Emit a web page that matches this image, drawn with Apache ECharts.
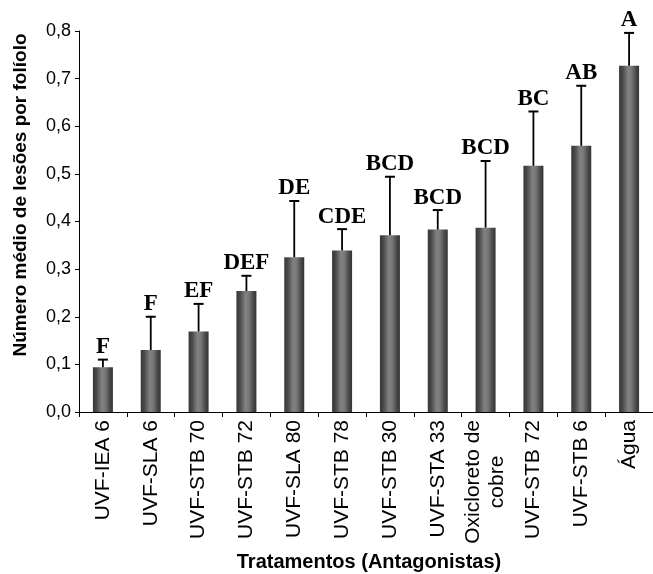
<!DOCTYPE html>
<html>
<head>
<meta charset="utf-8">
<script src="https://cdn.jsdelivr.net/npm/echarts@6/dist/echarts.min.js"></script>
<style>html,body{margin:0;padding:0;background:#fff;}#c{width:653px;height:574px;}</style>
</head>
<body>
<div id="c"></div>
<script>
var categories = ['UVF-IEA 6','UVF-SLA 6','UVF-STB 70','UVF-STB 72','UVF-SLA 80','UVF-STB 78','UVF-STB 30','UVF-STA 33','Oxicloreto de\ncobre','UVF-STB 72','UVF-STB 6','Água'];
var means = [0.094, 0.130, 0.169, 0.254, 0.325, 0.339, 0.371, 0.383, 0.387, 0.517, 0.559, 0.727];
var upper = [0.110, 0.200, 0.227, 0.286, 0.443, 0.384, 0.494, 0.424, 0.527, 0.631, 0.685, 0.796];
var letters = ['F','F','EF','DEF','DE','CDE','BCD','BCD','BCD','BC','AB','A'];
var yTicks = [0, 0.1, 0.2, 0.3, 0.4, 0.5, 0.6, 0.7, 0.8];

var chart = echarts.init(document.getElementById('c'), null, {renderer: 'canvas'});
var barGrad = new echarts.graphic.LinearGradient(0, 0, 1, 0, [
  {offset: 0, color: '#363636'},
  {offset: 0.18, color: '#4a4a4a'},
  {offset: 0.45, color: '#828282'},
  {offset: 0.62, color: '#777777'},
  {offset: 0.85, color: '#474747'},
  {offset: 1, color: '#343434'}
]);
var errData = categories.map(function (c, i) { return [i, means[i], upper[i]]; });

chart.setOption({
  animation: false,
  backgroundColor: '#fff',
  grid: {left: 79, top: 31, width: 582, bottom: 162, containLabel: false},
  xAxis: {
    type: 'category',
    data: categories,
    axisLine: {lineStyle: {color: '#000', width: 1}},
    axisTick: {show: true, length: 5, lineStyle: {color: '#000'}},
    axisLabel: {
      rotate: 90, margin: 8, color: '#000', fontFamily: 'Liberation Sans, Arial', fontSize: 21,
      lineHeight: 24,
      formatter: function (v) {
        return v.split('\n').map(function (s) { return '{c|' + s + '}'; }).join('\n');
      },
      rich: {c: {align: 'center', fontFamily: 'Liberation Sans, Arial', fontSize: 21, color: '#000', lineHeight: 24}}
    }
  },
  yAxis: {
    type: 'value', min: 0, max: 0.8, interval: 0.1,
    axisLine: {show: true, lineStyle: {color: '#000', width: 1}},
    axisTick: {show: true, length: 4, lineStyle: {color: '#000'}},
    splitLine: {show: false},
    axisLabel: {
      color: '#000', fontFamily: 'Liberation Sans, Arial', fontSize: 18, margin: 8,
      formatter: function (v) { return v.toFixed(1).replace('.', ','); }
    }
  },
  graphic: [{
    type: 'text', x: 21, y: 195, rotation: Math.PI / 2,
    style: {
      text: 'Número médio de lesões por folíolo', fill: '#000',
      font: 'bold 19px "Liberation Sans", Arial', textAlign: 'center', textVerticalAlign: 'middle'
    }
  }, {
    type: 'text', x: 369, y: 562,
    style: {
      text: 'Tratamentos (Antagonistas)', fill: '#000',
      font: 'bold 20px "Liberation Sans", Arial', textAlign: 'center', textVerticalAlign: 'middle'
    }
  }],
  series: [{
    type: 'bar', data: means, barWidth: 20,
    itemStyle: {color: barGrad}
  }, {
    type: 'custom', data: errData, z: 5,
    renderItem: function (params, api) {
      var i = api.value(0);
      var top = api.coord([i, api.value(2)]);
      var base = api.coord([i, api.value(1)]);
      return {
        type: 'group',
        children: [
          {type: 'line', shape: {x1: top[0], y1: base[1], x2: top[0], y2: top[1]}, style: {stroke: '#000', lineWidth: 1.8}},
          {type: 'line', shape: {x1: top[0] - 5, y1: top[1], x2: top[0] + 5, y2: top[1]}, style: {stroke: '#000', lineWidth: 2}},
          {type: 'text', x: top[0], y: top[1] - 1, style: {
            text: letters[i], fill: '#000', font: 'bold 23px "Liberation Serif", "Times New Roman"',
            textAlign: 'center', textVerticalAlign: 'bottom'
          }}
        ]
      };
    }
  }]
});
</script>
</body>
</html>
